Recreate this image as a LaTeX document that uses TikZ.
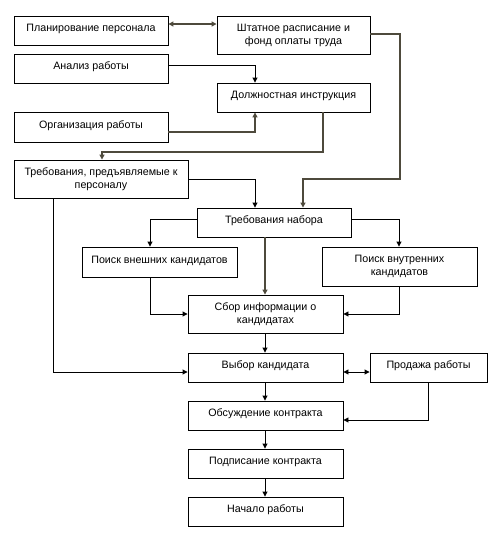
\documentclass[tikz,border=0pt]{standalone}
\usepackage{fontspec}
\setmainfont{Liberation Sans}
\usetikzlibrary{arrows.meta}
\begin{document}
\begin{tikzpicture}[x=1pt,y=-1pt,
  box/.style={draw, line width=0.9pt, inner sep=0pt, font=\fontsize{10.7}{13}\selectfont},
  onebox/.style={box, text height=8pt, text depth=6pt},
  twobox/.style={box, align=center},
  conn/.style={line width=0.9pt, -{Triangle[length=5pt,width=5pt]}},
  gconn/.style={conn, draw={rgb,255:red,78;green,74;blue,60}, line width=1.2pt},
  tip/.style={-{Triangle[length=5pt,width=5pt]}}]
\useasboundingbox (0,0) rectangle (503,544);
% boxes
\node[onebox, minimum width=154pt, minimum height=29pt] (plan) at (91,30.5) {Планирование персонала};
\node[twobox, minimum width=153pt, minimum height=38pt] (shtat) at (293.5,35) {Штатное расписание и\\фонд оплаты труда};
\node[onebox, minimum width=154pt, minimum height=29pt] (analiz) at (91,68.5) {Анализ работы};
\node[onebox, minimum width=153pt, minimum height=29pt] (dolzh) at (293.5,97.5) {Должностная инструкция};
\node[onebox, minimum width=154pt, minimum height=30pt] (org) at (91,127) {Организация работы};
\node[twobox, minimum width=174pt, minimum height=38pt] (treb) at (101,179) {Требования, предъявляемые к\\персоналу};
\node[onebox, minimum width=154pt, minimum height=29pt] (nabor) at (274,222.5) {Требования набора};
\node[onebox, minimum width=155pt, minimum height=30pt] (vnesh) at (159.5,262) {Поиск внешних кандидатов};
\node[twobox, minimum width=155pt, minimum height=39pt] (vnutr) at (399.5,266.5) {Поиск внутренних\\кандидатов};
\node[twobox, minimum width=155pt, minimum height=38pt] (sbor) at (265.5,314) {Сбор информации о\\кандидатах};
\node[onebox, minimum width=155pt, minimum height=29pt] (vybor) at (265.5,367.5) {Выбор кандидата};
\node[onebox, minimum width=117pt, minimum height=29pt] (prod) at (428.5,367.5) {Продажа работы};
\node[onebox, minimum width=155pt, minimum height=29pt] (obsuzh) at (265.5,415.5) {Обсуждение контракта};
\node[onebox, minimum width=155pt, minimum height=29pt] (podpis) at (265.5,463.5) {Подписание контракта};
\node[onebox, minimum width=155pt, minimum height=29pt] (nach) at (265.5,511.5) {Начало работы};
% helper coordinates
\coordinate (y24) at (0,24);
\coordinate (y65) at (0,65);
\coordinate (y132) at (0,132);
\coordinate (y152) at (0,152);
\coordinate (y34) at (0,34);
\coordinate (y179) at (0,179);
\coordinate (y219) at (0,219);
\coordinate (y314) at (0,314);
\coordinate (y372) at (0,372);
\coordinate (y420) at (0,420);
\coordinate (x255) at (255,0);
\coordinate (x323) at (323,0);
\coordinate (x102) at (102,0);
\coordinate (x400) at (400,0);
\coordinate (x303) at (303,0);
\coordinate (x150) at (150,0);
\coordinate (x399) at (399,0);
\coordinate (x265) at (265,0);
\coordinate (x53) at (53,0);
\coordinate (x428) at (428,0);
% connectors
\draw[gconn, {Triangle[length=5pt,width=5pt]}-{Triangle[length=5pt,width=5pt]}] (plan.east |- y24) -- (shtat.west |- y24);
\draw[conn] (analiz.east |- y65) -| (dolzh.north -| x255);
\draw[gconn] (org.east |- y132) -| (dolzh.south -| x255);
\draw[gconn] (dolzh.south -| x323) -- (x323 |- y152) -| (treb.north -| x102);
\draw[gconn] (shtat.east |- y34) -- (x400 |- y34) -- (x400 |- y179) -| (nabor.north -| x303);
\draw[conn] (treb.east |- y179) -| (nabor.north -| x255);
\draw[conn] (nabor.west |- y219) -| (vnesh.north -| x150);
\draw[conn] (nabor.east |- y219) -| (vnutr.north -| x399);
\draw[gconn] (nabor.south -| x265) -- (sbor.north -| x265);
\draw[conn] (vnesh.south -| x150) |- (sbor.west |- y314);
\draw[conn] (vnutr.south -| x399) |- (sbor.east |- y314);
\draw[conn] (sbor.south -| x265) -- (vybor.north -| x265);
\draw[conn] (treb.south -| x53) |- (vybor.west |- y372);
\draw[conn, {Triangle[length=5pt,width=5pt]}-{Triangle[length=5pt,width=5pt]}] (vybor.east |- y372) -- (prod.west |- y372);
\draw[conn] (prod.south -| x428) |- (obsuzh.east |- y420);
\draw[conn] (vybor.south -| x265) -- (obsuzh.north -| x265);
\draw[conn] (obsuzh.south -| x265) -- (podpis.north -| x265);
\draw[conn] (podpis.south -| x265) -- (nach.north -| x265);
\end{tikzpicture}
\end{document}
